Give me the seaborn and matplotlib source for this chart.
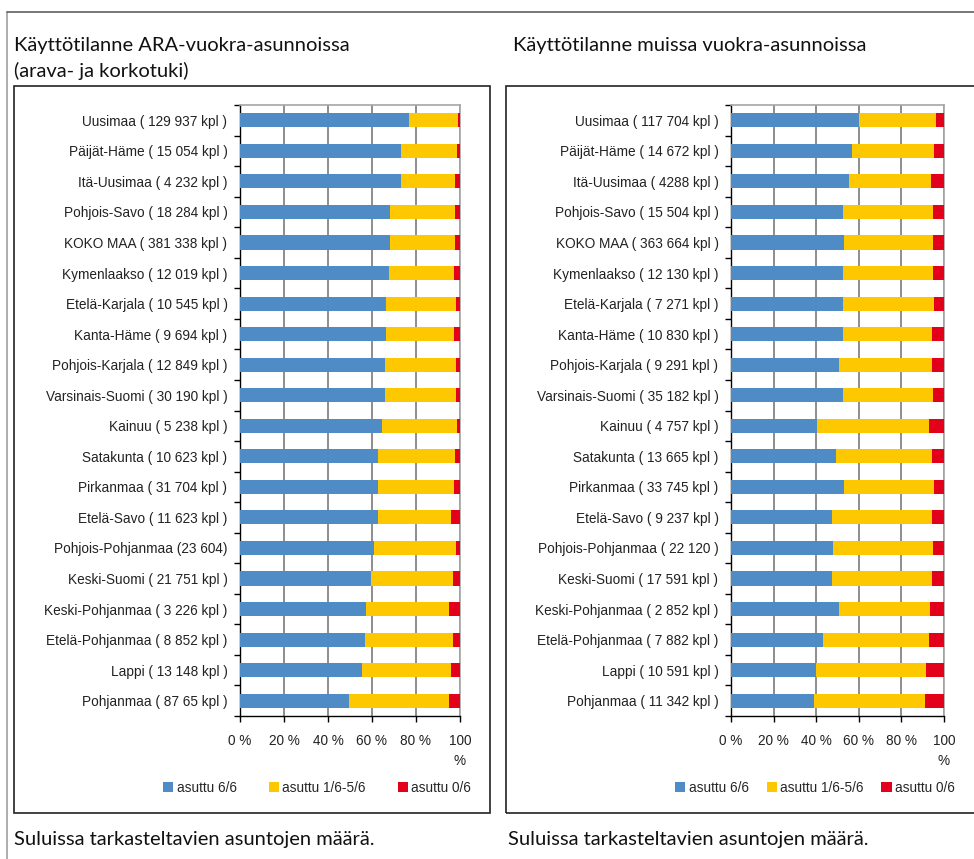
import numpy as np
import pandas as pd
import matplotlib
matplotlib.use("Agg")
import matplotlib.pyplot as plt
from matplotlib.patches import Rectangle, Patch
from matplotlib.lines import Line2D
import seaborn as sns

# DATA (percent of dwellings)

regions = ["Uusimaa", "Päijät-Häme", "Itä-Uusimaa", "Pohjois-Savo", "KOKO MAA",
           "Kymenlaakso", "Etelä-Karjala", "Kanta-Häme", "Pohjois-Karjala",
           "Varsinais-Suomi", "Kainuu", "Satakunta", "Pirkanmaa", "Etelä-Savo",
           "Pohjois-Pohjanmaa", "Keski-Suomi", "Keski-Pohjanmaa", "Etelä-Pohjanmaa",
           "Lappi", "Pohjanmaa"]

ara_counts = ["( 129 937 kpl )", "( 15 054 kpl )", "( 4 232 kpl )", "( 18 284 kpl )",
              "( 381 338 kpl )", "( 12 019 kpl )", "( 10 545 kpl )", "( 9 694 kpl )",
              "( 12 849 kpl )", "( 30 190 kpl )", "( 5 238 kpl )", "( 10 623 kpl )",
              "( 31 704 kpl )", "( 11 623 kpl )", "(23 604)", "( 21 751 kpl )",
              "( 3 226 kpl )", "( 8 852 kpl )", "( 13 148 kpl )", "( 87 65 kpl )"]
ara_full = [77.0, 73.3, 73.3, 68.2, 68.2, 67.6, 66.4, 66.4, 65.8, 65.8,
            64.5, 62.7, 62.7, 62.7, 60.9, 59.7, 57.3, 56.7, 55.5, 49.5]
ara_part = [22.1, 25.2, 24.6, 29.7, 29.7, 29.5, 31.6, 30.7, 32.2, 32.2,
            34.0, 35.2, 34.4, 33.4, 37.1, 37.1, 37.7, 40.1, 40.6, 45.5]
ara_empty = [0.9, 1.5, 2.1, 2.1, 2.1, 2.9, 2.0, 2.9, 2.0, 2.0,
             1.5, 2.1, 2.9, 3.9, 2.0, 3.2, 5.0, 3.2, 3.9, 5.0]

other_counts = ["( 117 704 kpl )", "( 14 672 kpl )", "( 4288 kpl )", "( 15 504 kpl )",
                "( 363 664 kpl )", "( 12 130 kpl )", "( 7 271 kpl )", "( 10 830 kpl )",
                "( 9 291 kpl )", "( 35 182 kpl )", "( 4 757 kpl )", "( 13 665 kpl )",
                "( 33 745 kpl )", "( 9 237 kpl )", "( 22 120 )", "( 17 591 kpl )",
                "( 2 852 kpl )", "( 7 882 kpl )", "( 10 591 kpl )", "( 11 342 kpl )"]
other_full = [59.9, 56.7, 55.5, 52.5, 53.0, 52.5, 52.5, 52.5, 50.6, 52.5,
              40.6, 49.2, 53.0, 47.5, 48.1, 47.5, 50.6, 43.1, 39.8, 38.9]
other_part = [36.2, 38.8, 38.3, 42.4, 41.9, 42.4, 43.0, 41.7, 43.6, 42.4,
              52.4, 45.0, 42.5, 46.7, 46.8, 46.7, 43.0, 49.9, 51.9, 52.0]
other_empty = [3.9, 4.5, 6.2, 5.1, 5.1, 5.1, 4.5, 5.8, 5.8, 5.1,
               7.0, 5.8, 4.5, 5.8, 5.1, 5.8, 6.4, 7.0, 8.3, 9.1]

series_names = ["asuttu 6/6", "asuttu 1/6-5/6", "asuttu 0/6"]
colors = ["#4F8BC5", "#FDC800", "#E2001A"]
xtick_labels = ["0 %", "20 %", "40 %", "60 %", "80 %", "100\n%"]

sns.set_theme(style="white")
plt.rcParams["font.family"] = ["Liberation Sans", "DejaVu Sans"]

fig = plt.figure(figsize=(9.74, 8.59), dpi=100)
W, H = 974, 859


def fx(px):
    return px / W


def fy(py):
    return 1 - py / H


def stacked(ax, counts, full, part, empty):
    labels = [f"{r} {c}" for r, c in zip(regions, counts)]
    df = pd.DataFrame({"label": labels, "full": full, "part": part, "empty": empty})
    df["c1"] = df["full"]
    df["c2"] = df["full"] + df["part"]
    df["c3"] = df["c2"] + df["empty"]
    for col, color in zip(["c3", "c2", "c1"], colors[::-1]):
        sns.barplot(data=df, x=col, y="label", orient="h", color=color,
                    width=0.46, saturation=1, linewidth=0, ax=ax, zorder=3)
    ax.set_xlim(0, 100)
    ax.set_ylim(len(labels) - 0.5, -0.5)
    ax.set_xticks([0, 20, 40, 60, 80, 100])
    ax.set_xticklabels(xtick_labels, fontsize=9.8, color="#222222", linespacing=1.55)
    ax.set_xlabel("")
    ax.set_ylabel("")
    ax.tick_params(axis="y", length=0, labelsize=9.8, labelcolor="#222222", pad=9)
    ax.set_yticks(np.arange(-0.5, len(labels), 1), minor=True)
    ax.tick_params(axis="y", which="minor", length=4, width=1, color="black", left=True)
    ax.tick_params(axis="x", length=4, width=1, color="black", bottom=True, pad=9)
    ax.grid(axis="x", color="#7A7A7A", linewidth=1.2, zorder=0)
    ax.grid(axis="y", visible=False)
    for s in ["left", "bottom"]:
        ax.spines[s].set_color("black")
        ax.spines[s].set_linewidth(1)
    for s in ["top", "right"]:
        ax.spines[s].set_color("#A6A6A6")
        ax.spines[s].set_linewidth(1.2)
    ax.set_axisbelow(True)


ax1 = fig.add_axes([fx(240), fy(716), fx(220), (716 - 105) / H])
stacked(ax1, ara_counts, ara_full, ara_part, ara_empty)
ax2 = fig.add_axes([fx(731), fy(716), fx(213), (716 - 105) / H])
stacked(ax2, other_counts, other_full, other_part, other_empty)

handles = [Patch(facecolor=c, edgecolor="none") for c in colors]
ax1.legend(handles, series_names, loc="center", bbox_to_anchor=(fx(317), fy(788)),
           bbox_transform=fig.transFigure, ncol=3, frameon=False, fontsize=9.8,
           handlelength=0.75, handleheight=0.75, handletextpad=0.25, columnspacing=2.35)
ax2.legend(handles, series_names, loc="center", bbox_to_anchor=(fx(815), fy(788)),
           bbox_transform=fig.transFigure, ncol=3, frameon=False, fontsize=9.8,
           handlelength=0.75, handleheight=0.75, handletextpad=0.25, columnspacing=1.3)

# frames
fig.add_artist(Line2D([fx(7), fx(7)], [fy(12), 0], transform=fig.transFigure,
                      color="#A0A0A0", linewidth=1.2))
fig.add_artist(Line2D([fx(7), 1], [fy(12), fy(12)], transform=fig.transFigure,
                      color="#606060", linewidth=1.2))
fig.add_artist(Rectangle((fx(14), fy(813)), fx(476), (813 - 86) / H, transform=fig.transFigure,
                         fill=False, edgecolor="#222222", linewidth=1.2))
fig.add_artist(Rectangle((fx(506), fy(813)), fx(480), (813 - 86) / H, transform=fig.transFigure,
                         fill=False, edgecolor="#222222", linewidth=1.2))

tfont = dict(family=["Lato", "DejaVu Sans"], fontsize=14.5, color="#111111")
fig.text(fx(14), fy(46), "Käyttötilanne ARA-vuokra-asunnoissa", va="center", **tfont)
fig.text(fx(14), fy(71), "(arava- ja korkotuki)", va="center", **tfont)
fig.text(fx(513), fy(46), "Käyttötilanne muissa vuokra-asunnoissa", va="center", **tfont)
fig.text(fx(14), fy(839), "Suluissa tarkasteltavien asuntojen määrä.", va="center", **tfont)
fig.text(fx(508), fy(839), "Suluissa tarkasteltavien asuntojen määrä.", va="center", **tfont)

fig.savefig("out.png", dpi=100, facecolor="white")
